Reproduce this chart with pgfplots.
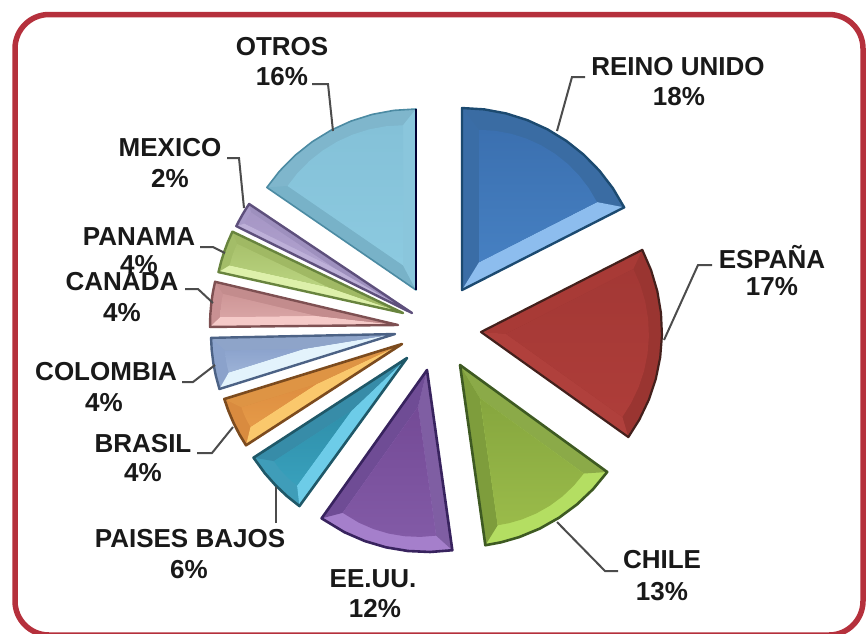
\documentclass[border=0pt]{standalone}
\usepackage{fontspec}
\setmainfont{Liberation Sans}
\usepackage{pgfplots}
\usepackage{pgfplotstable}
\pgfplotsset{compat=1.18}

% palette: id, edge, arc bevel, bevel at start angle, bevel at end angle, face top, face bottom
\newcommand{\pal}[7]{%
  \definecolor{#1E}{HTML}{#2}\definecolor{#1R}{HTML}{#3}%
  \definecolor{#1A}{HTML}{#4}\definecolor{#1B}{HTML}{#5}%
  \definecolor{#1F}{HTML}{#6}\definecolor{#1G}{HTML}{#7}}
\pal{uk}{1C4A70}{3A6CA3}{3A6DA6}{8DBDEE}{3B70B0}{4680C2}
\pal{es}{43201C}{9A3531}{A83A36}{B0403C}{A33835}{AE3D39}
\pal{cl}{3E5A22}{B4DE62}{8BAA48}{7E9D3C}{86A63E}{9ABB4A}
\pal{us}{38235E}{A57FCB}{7F5EA3}{6F4C95}{744A96}{825AA6}
\pal{nl}{1F5868}{3F9DB9}{6DCCE8}{378CA8}{2F8FAA}{38A0BC}
\pal{br}{7C4B1E}{D98B3F}{FAC86C}{DE9444}{DE8E40}{E59A48}
\pal{co}{4C6285}{8BA2CB}{E3F3FC}{8EA4C9}{8CA3CD}{9CB2D6}
\pal{ca}{7E5052}{C99193}{F5CAC8}{C38C8D}{CE9697}{D8A4A4}
\pal{pa}{68843E}{A3BD68}{DDF0AA}{A0B964}{A8C16C}{BAD480}
\pal{mx}{5E507C}{A99BC9}{BDB0D8}{9E90BE}{A696C5}{B0A2CE}
\pal{ot}{4C8BA3}{7FB6CC}{78B2C8}{8AC6DC}{84C1D8}{8CCAE0}

\pgfplotstableread[row sep=\\]{a r\\ 0 0\\ 0 182\\ 7 182\\ 14 182\\ 21 182\\ 28 182\\ 35 182\\ 42 182\\ 49 182\\ 56 182\\ 63 182\\}\tabUK
\pgfplotstableread[row sep=\\]{a r\\ 63 0\\ 63 181\\ 70 181\\ 77 181\\ 84 181\\ 91 181\\ 98 181\\ 105 181\\ 112 181\\ 119 181\\ 125.5 181\\}\tabES
\pgfplotstableread[row sep=\\]{a r\\ 126 0\\ 126 182\\ 133 182\\ 140 182\\ 147 182\\ 154 182\\ 161 182\\ 167 182\\ 172 182\\}\tabCL
\pgfplotstableread[row sep=\\]{a r\\ 172 0\\ 172 182\\ 179 182\\ 186 182\\ 193 182\\ 200 182\\ 207 182\\ 215.4 182\\}\tabUS
\pgfplotstableread[row sep=\\]{a r\\ 216 0\\ 216 183\\ 221 183\\ 226 183\\ 231 183\\ 237 183\\}\tabNL
\pgfplotstableread[row sep=\\]{a r\\ 237 0\\ 237 186\\ 241 186\\ 245 186\\ 249 186\\ 252.8 186\\}\tabBR
\pgfplotstableread[row sep=\\]{a r\\ 252.6 0\\ 252.6 184\\ 257 184\\ 261 184\\ 265 184\\ 268.8 184\\}\tabCO
\pgfplotstableread[row sep=\\]{a r\\ 269.4 0\\ 269.4 188\\ 273 188\\ 277 188\\ 280 188\\ 283.3 188\\}\tabCA
\pgfplotstableread[row sep=\\]{a r\\ 282.5 0\\ 282.5 189\\ 286 189\\ 289 189\\ 292 189\\ 295.5 189\\}\tabPA
\pgfplotstableread[row sep=\\]{a r\\ 296.3 0\\ 296.3 196\\ 298 196\\ 300 196\\ 302 196\\ 303.8 196\\}\tabMX
\pgfplotstableread[row sep=\\]{a r\\ 304.5 0\\ 304.5 181\\ 311 181\\ 318 181\\ 325 181\\ 332 181\\ 339 181\\ 346 181\\ 353 181\\ 360 181\\}\tabOT

% x and y of a row: apex + polar, pulled towards the incentre by t*k
\newcommand{\ptx}{\gx+(1-\thisrow{t}*\kk)*(\cx+\thisrow{r}*\sr*sin(\thisrow{a})-\gx)}
\newcommand{\pty}{\gy+(1-\thisrow{t}*\kk)*(\cy-\thisrow{r}*\sr*cos(\thisrow{a})-\gy)}
\newcommand{\ptxo}[1]{\gx+(1-#1*\kk)*(\cx+\thisrow{r}*sin(\thisrow{a})-\gx)}
\newcommand{\ptyo}[1]{\gy+(1-#1*\kk)*(\cy-\thisrow{r}*cos(\thisrow{a})-\gy)}
\newcommand{\side}[2]{%
  \addplot[fill=#2,draw=none] table[row sep=\\,x expr={\ptx},y expr={\pty}]
    {a r t\\ #1 0 0\\ #1 1 0\\ #1 1 1\\ #1 0 1\\} --cycle;}
% id, table, cx, cy, a0, a1, r, bevel width, edge width
\newcommand{\slice}[9]{%
  \pgfmathsetmacro{\cx}{#3}\pgfmathsetmacro{\cy}{#4}\pgfmathsetmacro{\sr}{#7}%
  \pgfmathsetmacro{\hs}{sin((#6-#5)/2)}%
  \pgfmathsetmacro{\rr}{#7*\hs/(1+\hs)}%
  \pgfmathsetmacro{\md}{(#5+#6)/2}%
  \pgfmathsetmacro{\gx}{#3+(#7-\rr)*sin(\md)}%
  \pgfmathsetmacro{\gy}{#4-(#7-\rr)*cos(\md)}%
  \pgfmathsetmacro{\kk}{#8/\rr}%
  \addplot[fill=#1R,draw=none] table[x expr={\ptxo{0}},y expr={\ptyo{0}}] {#2} --cycle;
  \side{#5}{#1A}
  \side{#6}{#1B}
  \addplot[top color=#1F,bottom color=#1G,draw=none] table[x expr={\ptxo{1}},y expr={\ptyo{1}}] {#2} --cycle;
  \addplot[draw=#1E,line width=#9,line join=round] table[x expr={\ptxo{0}},y expr={\ptyo{0}}] {#2} --cycle;
}
\newcommand{\lead}[1]{\addplot[draw=black!70,line width=2pt] coordinates {#1};}
\newcommand{\lbl}[3]{\node[font=\fontsize{26}{30}\selectfont\bfseries,text=black!90,inner sep=0pt] at (axis cs:#1,#2) {#3};}

\begin{document}
\begin{tikzpicture}
\path[use as bounding box] (0,0) rectangle (867pt,633pt);
\clip (0,0) rectangle (867pt,633pt);
\begin{axis}[
    at={(0,0)},anchor=south west,
    scale only axis,width=867pt,height=633pt,
    xmin=0,xmax=867,ymin=0,ymax=633,y dir=reverse,
    hide axis,clip=false,
  ]
  \slice{uk}{\tabUK}{462}{290}{0}{63}{182}{17}{2.4pt}
  \slice{es}{\tabES}{481}{332}{63}{125.5}{181}{13}{2.2pt}
  \slice{cl}{\tabCL}{460}{365}{126}{172}{182}{15}{2.6pt}
  \slice{us}{\tabUS}{427}{370}{172}{215.4}{182}{14}{2.6pt}
  \slice{nl}{\tabNL}{407}{358}{216}{237}{183}{14}{2.6pt}
  \slice{br}{\tabBR}{402}{344}{237}{252.8}{186}{13}{2.6pt}
  \slice{co}{\tabCO}{395}{334}{252.6}{268.8}{184}{13}{2.4pt}
  \slice{ca}{\tabCA}{398}{325}{269.4}{283.3}{188}{10}{2.4pt}
  \slice{pa}{\tabPA}{403}{313}{282.5}{295.5}{189}{9}{2.4pt}
  \slice{mx}{\tabMX}{412}{313}{296.3}{303.8}{196}{6}{2.4pt}
  \slice{ot}{\tabOT}{416}{290}{304.5}{360}{181}{13}{1.6pt}
  \addplot[draw=black!80!blue,line width=2.4pt] coordinates {(416,109) (416,290)};

  \lead{(585,77) (572,77) (557,131)}
  \lead{(712,265) (698,265) (664,340)}
  \lead{(557,522) (605,571) (618,571)}
  \lead{(312,84) (328,84) (333,131)}
  \lead{(227,158) (239,158) (244,208)}
  \lead{(200,247) (213,247) (225,253)}
  \lead{(185,289) (198,289) (213,303)}
  \lead{(182,382) (193,382) (215,365)}
  \lead{(197,453) (212,453) (233,427)}
  \lead{(276,523) (276,487)}

  \lbl{282}{47}{OTROS}
  \lbl{282}{77}{16\%}
  \lbl{678}{67}{REINO UNIDO}
  \lbl{679}{97}{18\%}
  \lbl{772}{257}{ESPAÑA}
  \lbl{772}{287}{17\%}
  \lbl{662}{560}{CHILE}
  \lbl{662}{592}{13\%}
  \lbl{373}{579}{EE.UU.}
  \lbl{375}{609}{12\%}
  \lbl{190}{539}{PAISES BAJOS}
  \lbl{189}{570}{6\%}
  \lbl{143}{444}{BRASIL}
  \lbl{143}{473}{4\%}
  \lbl{106}{372}{COLOMBIA}
  \lbl{104}{403}{4\%}
  \lbl{139}{237}{PANAMA}
  \lbl{139}{265}{4\%}
  \lbl{122}{282}{CANADA}
  \lbl{122}{313}{4\%}
  \lbl{170}{148}{MEXICO}
  \lbl{170}{179}{2\%}

  \draw[draw={rgb,255:red,181;green,48;blue,60},line width=5.5pt,rounded corners=34pt]
    (axis cs:15,14.5) rectangle (axis cs:863,635);
\end{axis}
\end{tikzpicture}
\end{document}
